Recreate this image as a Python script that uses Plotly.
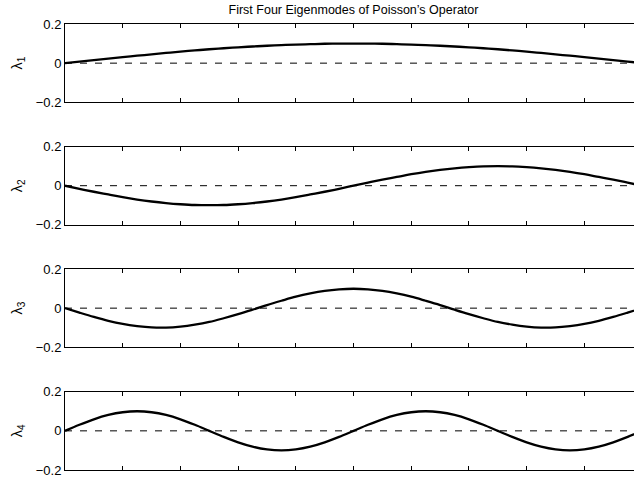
import plotly.graph_objects as go

x_vals = [round(0.025 * k, 3) for k in range(41)]

mode1 = [0, .008, .016, .023, .031, .038, .045, .052, .059, .065, .071, .076, .081, .085, .089, .092, .095, .097, .099, .100, .100,
         .100, .099, .097, .095, .092, .089, .085, .081, .076, .071, .065, .059, .052, .045, .038, .031, .023, .016, .008, 0]
mode2 = [0, -.016, -.031, -.045, -.059, -.071, -.081, -.089, -.095, -.099, -.100, -.099, -.095, -.089, -.081, -.071, -.059, -.045, -.031, -.016, 0,
         .016, .031, .045, .059, .071, .081, .089, .095, .099, .100, .099, .095, .089, .081, .071, .059, .045, .031, .016, 0]
mode3 = [0, -.023, -.045, -.065, -.081, -.092, -.099, -.100, -.095, -.085, -.071, -.052, -.031, -.008, .016, .038, .059, .076, .089, .097, .100,
         .097, .089, .076, .059, .038, .016, -.008, -.031, -.052, -.071, -.085, -.095, -.100, -.099, -.092, -.081, -.065, -.045, -.023, 0]
mode4 = [0, .031, .059, .081, .095, .100, .095, .081, .059, .031, 0, -.031, -.059, -.081, -.095, -.100, -.095, -.081, -.059, -.031, 0,
         .031, .059, .081, .095, .100, .095, .081, .059, .031, 0, -.031, -.059, -.081, -.095, -.100, -.095, -.081, -.059, -.031, 0]
modes = [mode1, mode2, mode3, mode4]
mode_labels = ["λ<sub>1</sub>", "λ<sub>2</sub>", "λ<sub>3</sub>", "λ<sub>4</sub>"]

zero_x = [0, 1]
zero_y = [0, 0]
y_tickvals = [-0.2, 0, 0.2]
y_ticktext = ["\u22120.2", "0", "0.2"]
x_tickvals = [round(0.1 * i, 1) for i in range(11)]
title_text = "First Four Eigenmodes of Poisson\u2019s Operator"

W, H = 634, 478
FONT = "Liberation Sans, Arial, Helvetica, sans-serif"
# pixel positions of panel tops/bottoms
panels_px = [(24, 102.3), (146.7, 224.7), (269.3, 347), (391.7, 470)]
x_left = 65 / W

fig = go.Figure()
layout = dict(
    width=W, height=H,
    margin=dict(l=0, r=0, t=0, b=0, autoexpand=False),
    paper_bgcolor="white", plot_bgcolor="white",
    showlegend=False,
    font=dict(family=FONT, size=13, color="black"),
    title=dict(text=title_text, x=353.5 / W, xanchor="center", xref="paper",
               y=1 - 10 / H, yanchor="middle", yref="container", automargin=False,
               font=dict(family=FONT, size=12.5, color="black")),
)

for i, (vals, lab) in enumerate(zip(modes, mode_labels)):
    n = i + 1
    xa = "x" if n == 1 else f"x{n}"
    ya = "y" if n == 1 else f"y{n}"
    fig.add_trace(go.Scatter(x=zero_x, y=zero_y, mode="lines", xaxis=xa, yaxis=ya,
                             line=dict(color="black", width=1, dash="7px,8px"), hoverinfo="skip"))
    fig.add_trace(go.Scatter(x=x_vals, y=vals, mode="lines", xaxis=xa, yaxis=ya,
                             line=dict(color="black", width=2.3, shape="spline", smoothing=1.0)))
    top, bot = panels_px[i]
    xkey = "xaxis" if n == 1 else f"xaxis{n}"
    ykey = "yaxis" if n == 1 else f"yaxis{n}"
    layout[xkey] = dict(domain=[x_left, 1], range=[0, 0.986], anchor=ya, automargin=False,
                        showline=True, linecolor="black", linewidth=1, mirror="ticks",
                        ticks="inside", ticklen=4, tickcolor="black", tickwidth=1,
                        tickvals=x_tickvals, showticklabels=False,
                        showgrid=False, zeroline=False, fixedrange=True)
    layout[ykey] = dict(domain=[1 - bot / H, 1 - top / H], range=[-0.2, 0.2], anchor=xa, automargin=False,
                        showline=True, linecolor="black", linewidth=1, mirror=False,
                        ticks="inside", ticklen=4, tickcolor="black", tickwidth=1,
                        tickvals=y_tickvals, ticktext=y_ticktext,
                        tickfont=dict(family=FONT, size=13, color="black"),
                        showgrid=False, zeroline=False, fixedrange=True,
                        title=dict(text=lab, standoff=9,
                                   font=dict(family=FONT, size=14.5, color="black")))

fig.update_layout(**layout)
fig.write_html("out.html", config={"displayModeBar": False},
               post_script="document.body.style.margin='0';document.body.style.overflow='hidden';")
